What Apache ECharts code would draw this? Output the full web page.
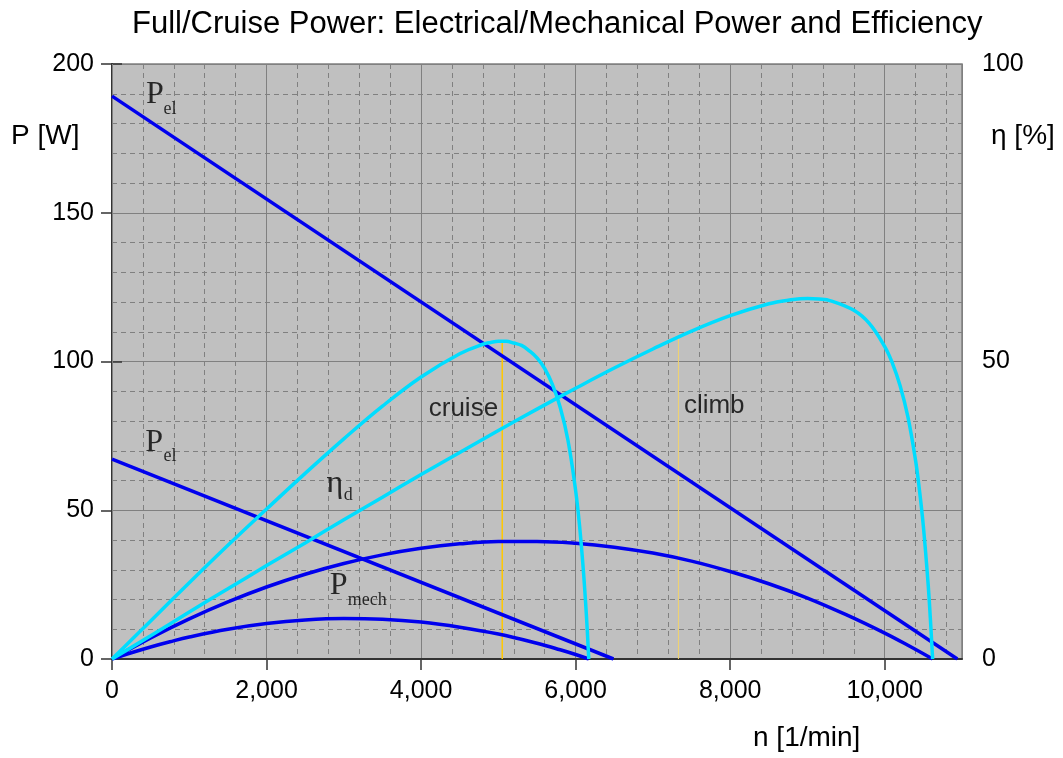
<!DOCTYPE html>
<html><head><meta charset="utf-8">
<script src="https://cdn.jsdelivr.net/npm/echarts@6/dist/echarts.min.js"></script>
<style>html,body{margin:0;padding:0;background:#fff}#c{width:1063px;height:758px}</style>
</head><body><div id="c"></div>
<script>
// ---- data ----
const titleText = 'Full/Cruise Power: Electrical/Mechanical Power and Efficiency';
const xName = 'n [1/min]';
const yName = 'P [W]';
const y2Name = 'η [%]';

// Electrical power [W] vs speed [1/min]
const pelFull = [[0, 189.2], [10940, 0]];
const pelCruise = [[0, 67.2], [6490, 0]];
// Mechanical power [W]
const pmechFull = [[0,0],[500,7.1],[1000,13.5],[1500,19.2],[2000,24.2],[2500,28.5],[3000,32.1],[3500,35.0],[4000,37.2],[4500,38.7],[5000,39.5],[5500,39.5],[6000,38.9],[6500,37.6],[7000,35.6],[7500,32.9],[8000,29.4],[8500,25.3],[9000,20.5],[9500,14.9],[10000,8.7],[10300,4.6],[10620,0]];
const pmechCruise = [[0,0],[250,2.1],[500,4.05],[750,5.8],[1000,7.4],[1500,10.0],[2000,11.9],[2500,13.1],[3000,13.6],[3500,13.35],[4000,12.4],[4500,10.7],[5000,8.4],[5500,5.3],[5800,3.1],[6000,1.5],[6170,0]];
// Efficiency [%]
const etaFull = [[0,0],[500,3.9],[1000,7.9],[1500,11.8],[2000,15.7],[2500,19.5],[3000,23.4],[3500,27.2],[4000,31.0],[4500,34.7],[5000,38.4],[5500,42.0],[6000,45.5],[6500,48.9],[7000,52.1],[7500,55.1],[8000,57.7],[8500,59.7],[8750,60.3],[9000,60.6],[9150,60.5],[9300,60.2],[9600,58.6],[9800,56.4],[10000,52.5],[10100,49.7],[10200,45.9],[10300,40.7],[10400,33.3],[10450,28.3],[10500,22.3],[10560,12.9],[10590,6.9],[10620,0]];
const etaCruise = [[0,0],[250,3.2],[500,6.4],[1000,12.8],[1500,19.1],[2000,25.2],[2500,31.2],[3000,37.0],[3500,42.5],[4000,47.4],[4500,51.3],[4800,52.9],[4900,53.2],[5000,53.4],[5100,53.4],[5200,53.1],[5300,52.7],[5400,51.8],[5500,50.6],[5600,48.8],[5700,46.1],[5800,42.3],[5900,36.8],[6000,28.3],[6050,22.5],[6100,14.9],[6140,7.2],[6170,0]];
// Operating points (vertical markers, efficiency axis)
const cruiseLine = [[5050, 0], [5050, 53.3]];
const climbLine = [[7330, 0], [7330, 54.0]];

// Annotations: text, kind, [n, P]
const annoText = ['P', 'el', 'P', 'el', 'η', 'd', 'P', 'mech', 'cruise', 'climb'];
const annoKind = ['big', 'sub', 'big', 'sub', 'big', 'sub', 'big', 'sub', 'sans', 'sans'];
const annoPos = [[440,189.8],[668,184.9],[431,72.8],[668,68.2],[2775,58.8],[2999,54.9],[2818,24.6],[3051,19.6],[4099,84.1],[7401,85.0]];

// ---- chart ----
const BLUE = '#0000EE', CYAN = '#00DDFF', YEL = '#FFC800';
const SANS = 'Liberation Sans, Arial, sans-serif';
const SERIF = 'Liberation Serif, Times New Roman, serif';
const kindStyle = {
  big: { fontFamily: SERIF, fontSize: 32 },
  sub: { fontFamily: SERIF, fontSize: 18 },
  sans: { fontFamily: SANS, fontSize: 26 }
};
const annoData = annoText.map((t, i) => ({
  value: annoPos[i],
  name: t,
  label: Object.assign({ show: true, position: 'right', distance: 0, formatter: t, color: '#000' }, kindStyle[annoKind[i]])
}));

function lineSeries(data, color, yIdx, width) {
  return {
    type: 'line', data: data, yAxisIndex: yIdx, xAxisIndex: 0,
    smooth: 0.4, showSymbol: false, symbol: 'none', animation: false,
    lineStyle: { color: color, width: width }, z: 3
  };
}

const chart = echarts.init(document.getElementById('c'), null, { renderer: 'canvas' });
chart.setOption({
  animation: false,
  backgroundColor: '#fff',
  title: {
    text: titleText, left: 127, top: 4,
    textStyle: { fontFamily: SANS, fontSize: 31, fontWeight: 'normal', color: '#000' }
  },
  grid: {
    left: 112, right: 101, top: 64, bottom: 99, show: true,
    backgroundColor: '#C0C0C0', borderColor: '#808080', borderWidth: 1.5
  },
  xAxis: [{
    type: 'value', min: 0, max: 11000, interval: 2000,
    axisLine: { show: true, onZero: false, lineStyle: { color: '#333', width: 2 } },
    axisTick: { show: true, length: 11, lineStyle: { color: '#333', width: 1.5 } },
    axisLabel: { margin: 20, fontFamily: SANS, fontSize: 25, color: '#000', showMaxLabel: false,
      formatter: v => v.toLocaleString('en-US') },
    splitLine: { show: true, lineStyle: { color: '#808080', width: 1 } },
    z: 2
  }, {
    type: 'value', min: 0, max: 11000, interval: 400, show: true, position: 'bottom',
    axisLine: { show: false }, axisTick: { show: false }, axisLabel: { show: false },
    splitLine: { show: true, lineStyle: { color: '#808080', width: 1, type: [5, 4] } },
    z: 1
  }],
  yAxis: [{
    type: 'value', min: 0, max: 200, interval: 50, position: 'left',
    axisLine: { show: true, lineStyle: { color: '#333', width: 2 } },
    axisTick: { show: true, length: 11, lineStyle: { color: '#333', width: 1.5 } },
    axisLabel: { margin: 18, fontFamily: SANS, fontSize: 25, color: '#000' },
    splitLine: { show: true, lineStyle: { color: '#808080', width: 1 } },
    minorTick: { show: false, splitNumber: 5 },
    minorSplitLine: { show: true, lineStyle: { color: '#808080', width: 1, type: [5, 4] } }
  }, {
    type: 'value', min: 0, max: 100, interval: 50, position: 'right',
    axisLine: { show: true, lineStyle: { color: '#333', width: 2 } },
    axisTick: { show: true, length: 10, lineStyle: { color: '#333', width: 1.5 } },
    axisLabel: { margin: 20, fontFamily: SANS, fontSize: 25, color: '#000' },
    splitLine: { show: false }
  }],
  graphic: [
    { type: 'text', left: 11, top: 136 - 14, style: { text: yName, font: '28px ' + SANS, fill: '#000' } },
    { type: 'text', left: 991, top: 136 - 14, style: { text: y2Name, font: '28px ' + SANS, fill: '#000' } },
    { type: 'text', left: 753, top: 738 - 14, style: { text: xName, font: '28px ' + SANS, fill: '#000' } }
  ],
  series: [
    Object.assign(lineSeries(cruiseLine, YEL, 1, 1.5), { smooth: false, z: 2 }),
    Object.assign(lineSeries(climbLine, '#F2D36A', 1, 1), { smooth: false, z: 2 }),
    lineSeries(pelFull, BLUE, 0, 3.5),
    lineSeries(pelCruise, BLUE, 0, 3.5),
    lineSeries(pmechFull, BLUE, 0, 3.5),
    lineSeries(pmechCruise, BLUE, 0, 3.5),
    lineSeries(etaFull, CYAN, 1, 3.5),
    lineSeries(etaCruise, CYAN, 1, 3.5),
    {
      type: 'scatter', data: annoData, symbolSize: 0, yAxisIndex: 0, z: 5,
      silent: true, animation: false
    }
  ]
});
</script></body></html>
